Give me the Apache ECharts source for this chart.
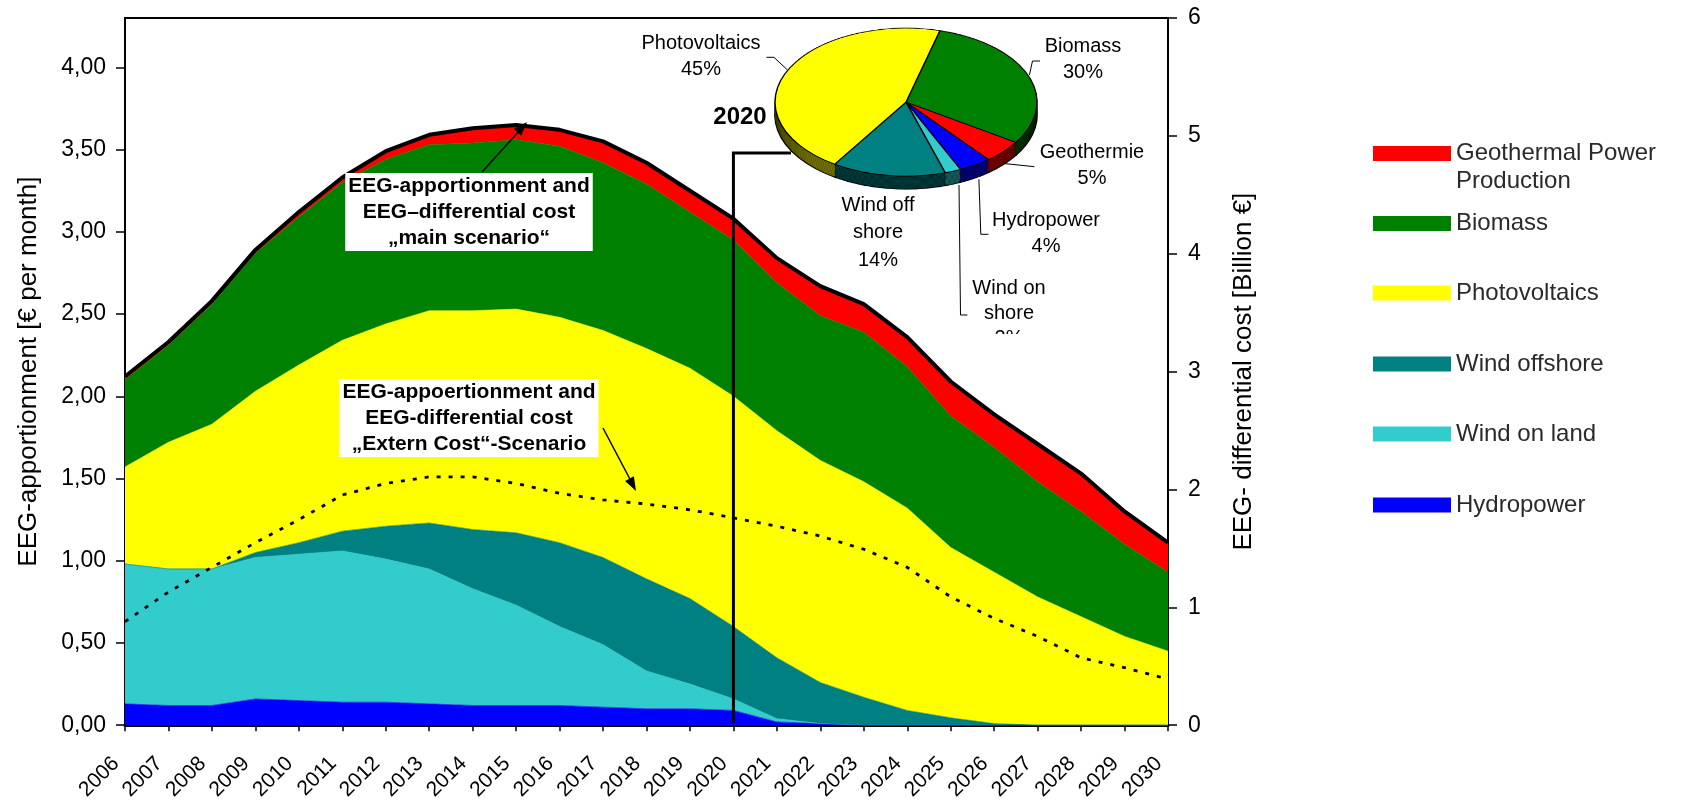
<!DOCTYPE html>
<html><head><meta charset="utf-8">
<script src="https://cdn.jsdelivr.net/npm/echarts@6/dist/echarts.min.js"></script>
<style>
html,body{margin:0;padding:0;background:#fff;overflow:hidden}
#main{position:absolute;left:0;top:0;width:1681px;height:803px}
#pie{position:absolute;left:756px;top:22.9px;width:300px;height:320px;transform:scaleY(0.565);transform-origin:0 0;pointer-events:none}
</style>
</head><body><div id="main"></div><div id="pie"></div>
<script>
// ---------- DATA ----------
const years = ['2006','2007','2008','2009','2010','2011','2012','2013','2014','2015','2016','2017','2018','2019','2020','2021','2022','2023','2024','2025','2026','2027','2028','2029','2030'];
const hydropower   = [0.13,0.12,0.12,0.16,0.15,0.14,0.14,0.13,0.12,0.12,0.12,0.11,0.10,0.10,0.09,0.02,0.01,0,0,0,0,0,0,0,0];
const windOnLand   = [0.85,0.83,0.83,0.86,0.89,0.92,0.87,0.82,0.71,0.61,0.48,0.38,0.23,0.15,0.07,0.02,0,0,0,0,0,0,0,0,0];
const windOffshore = [0,0,0,0.03,0.07,0.12,0.20,0.28,0.36,0.44,0.51,0.53,0.56,0.52,0.44,0.37,0.25,0.17,0.09,0.045,0.01,0,0,0,0];
const photovoltaics= [0.59,0.77,0.88,0.98,1.08,1.16,1.23,1.29,1.33,1.36,1.37,1.38,1.40,1.40,1.40,1.38,1.35,1.31,1.23,1.035,0.92,0.78,0.66,0.54,0.45];
const biomass      = [0.53,0.59,0.73,0.84,0.90,0.96,1.00,1.01,1.02,1.03,1.04,1.02,1.00,0.95,0.95,0.90,0.88,0.91,0.86,0.80,0.76,0.70,0.64,0.56,0.48];
const geothermal   = [0.02,0.02,0.02,0.02,0.03,0.03,0.05,0.06,0.09,0.09,0.10,0.13,0.13,0.13,0.13,0.15,0.18,0.17,0.18,0.21,0.20,0.23,0.23,0.20,0.18];
const externCost   = [0.63,0.81,0.96,1.11,1.25,1.40,1.47,1.51,1.51,1.47,1.41,1.37,1.345,1.31,1.26,1.21,1.15,1.07,0.96,0.78,0.65,0.54,0.41,0.35,0.28];
const leftTicks  = [0,0.5,1,1.5,2,2.5,3,3.5,4];
const rightTicks = [0,1,2,3,4,5,6];
const pieNames  = ['Biomass','Geothermie','Hydropower','Wind on shore','Wind off shore','Photovoltaics'];
const pieShares = [30,5,4,2,14,45];
const pieLabelNames = ['Biomass','Geothermie','Hydropower','Wind on\nshore','Wind off\nshore','Photovoltaics'];

// ---------- STYLE ----------
const FONT = '"Liberation Sans", Arial, sans-serif';
const seriesNames  = ['Hydropower','Wind on land','Wind offshore','Photovoltaics','Biomass','Geothermal Power Production'];
const seriesValues = [hydropower, windOnLand, windOffshore, photovoltaics, biomass, geothermal];
const seriesColors = ['#0000FF','#33CCCC','#008080','#FFFF00','#008000','#FF0000'];
const total = years.map((_, i) => +seriesValues.reduce((s, a) => s + a[i], 0).toFixed(3));

const legendOrder = ['Geothermal Power Production','Biomass','Photovoltaics','Wind offshore','Wind on land','Hydropower'];
const legendCenters = [153.5, 223.5, 293, 364, 434, 505];

const chart = echarts.init(document.getElementById('main'), null, {renderer:'canvas'});

const series = seriesNames.map((n, k) => ({
  name: n, type: 'line', stack: 'main', data: seriesValues[k],
  symbol: 'none', smooth: false, z: 2,
  itemStyle: {color: seriesColors[k]},
  lineStyle: {width: 0.6, color: seriesColors[k]},
  areaStyle: {color: seriesColors[k], opacity: 1},
  emphasis: {disabled: true}
}));
series.push({
  name: 'total', type: 'line', data: total, symbol: 'none', z: 4,
  lineStyle: {color: '#000', width: 4}, emphasis: {disabled: true}
});
series.push({
  name: 'extern', type: 'line', data: externCost, symbol: 'none', z: 4,
  lineStyle: {color: '#000', width: 2.8, type: [4, 8]}, emphasis: {disabled: true}
});

const legends = legendOrder.map((name, i) => ({
  data: [name], orient: 'vertical', left: 1373,
  top: i === 0 ? legendCenters[0] - 42 : legendCenters[i] - 15,
  padding: 0, icon: 'rect', itemWidth: 78, itemHeight: 15, itemGap: 0,
  selectedMode: false,
  formatter: i === 0 ? () => ' \nGeothermal Power\nProduction' : '{name}',
  textStyle: {fontSize: 24, color: '#2a2a2a', fontFamily: FONT, lineHeight: i === 0 ? 28 : 30}
}));

function txt(text, x, y, size, weight, lh, extra) {
  return {
    type: 'text', z: 100,
    style: Object.assign({
      text: text, x: x, y: y, fill: '#000',
      font: (weight || 'normal') + ' ' + size + 'px ' + FONT,
      align: 'center', verticalAlign: 'middle', textAlign: 'center', textVerticalAlign: 'middle',
      lineHeight: lh
    }, extra || {})
  };
}
function pl(points, w) {
  return {type: 'polyline', z: 100, shape: {points: points}, style: {stroke: '#000', lineWidth: w || 1, fill: null}};
}

const pieLabelPos = [[1083,59,26],[1092,165,26],[1046,233,26],[1009,313,25],[878,232.7,27.5],[701,56,26]];

const graphics = [];
pieNames.forEach((n, i) => {
  const p = pieLabelPos[i];
  graphics.push(txt(pieLabelNames[i] + '\n' + pieShares[i] + '%', p[0], p[1], 20, 'normal', p[2]));
});
graphics.push({type: 'rect', z: 101, shape: {x: 980, y: 334, width: 60, height: 18}, style: {fill: '#fff'}});
graphics.push(pl([[766.5,57.3],[774,57.3],[787.5,70]]));
graphics.push(pl([[1040,61],[1032.5,61],[1029.4,75]]));
graphics.push(pl([[1001.8,163.3],[1034.4,166.7]]));
graphics.push(pl([[988.4,234.3],[980.8,234.3],[978.9,179.3]]));
graphics.push(pl([[967.4,315],[960.5,315],[959,185]]));
graphics.push(txt('2020', 740, 117, 24, 'bold', 28));
graphics.push(txt('EEG-apportionment and\nEEG\u2013differential cost\n\u201emain scenario\u201c', 469, 212, 21, 'bold', 26,
  {backgroundColor: '#fff', padding: [0, 3, 0, 3]}));
graphics.push(txt('EEG-appoertionment and\nEEG-differential cost\n\u201eExtern Cost\u201c-Scenario', 469, 418, 21, 'bold', 26,
  {backgroundColor: '#fff', padding: [0, 3, 0, 3]}));
graphics.push({type: 'line', z: 100, shape: {x1: 482, y1: 172, x2: 521, y2: 129}, style: {stroke: '#000', lineWidth: 1.5}});
graphics.push({type: 'polygon', z: 100, shape: {points: [[527,122],[521.3,135.7],[513.9,129.1]]}, style: {fill: '#000'}});
graphics.push({type: 'line', z: 100, shape: {x1: 603, y1: 428, x2: 632, y2: 483}, style: {stroke: '#000', lineWidth: 1.5}});
graphics.push({type: 'polygon', z: 100, shape: {points: [[636,491],[625.1,480.9],[633.9,476.3]]}, style: {fill: '#000'}});

chart.setOption({
  animation: false,
  backgroundColor: '#fff',
  grid: {left: 125, right: 513, top: 18, bottom: 74, show: true, borderColor: '#000', borderWidth: 2, backgroundColor: 'transparent'},
  legend: legends,
  xAxis: {
    type: 'category', data: years, boundaryGap: false,
    axisLine: {lineStyle: {color: '#000', width: 3}},
    axisTick: {show: true, length: 6, lineStyle: {color: '#000', width: 1.5}},
    axisLabel: {rotate: 45, fontSize: 21, color: '#000', margin: 26, interval: 0, fontFamily: FONT,
      formatter: v => '{y|' + v + '}',
      rich: {y: {fontSize: 21, fontFamily: FONT, color: '#000', padding: [0, 13, 0, 0]}}},
    splitLine: {show: false}
  },
  yAxis: [{
    type: 'value', min: 0, max: 4.3, position: 'left',
    name: 'EEG-apportionment [\u20ac per month]', nameLocation: 'middle', nameRotate: 90, nameGap: 83,
    nameTextStyle: {fontSize: 26, color: '#000', fontFamily: FONT},
    axisLine: {show: true, lineStyle: {color: '#000', width: 2}},
    axisTick: {show: true, length: 9, customValues: leftTicks, lineStyle: {color: '#000', width: 1.5}},
    axisLabel: {customValues: leftTicks, fontSize: 23, color: '#000', margin: 19, fontFamily: FONT,
      formatter: v => v.toFixed(2).replace('.', ',')},
    splitLine: {show: false}
  }, {
    type: 'value', min: 0, max: 6, interval: 1, position: 'right',
    name: 'EEG- differential cost [Billion \u20ac]', nameLocation: 'middle', nameRotate: 90, nameGap: 63,
    nameTextStyle: {fontSize: 26, color: '#000', fontFamily: FONT},
    axisLine: {show: true, lineStyle: {color: '#000', width: 2}},
    axisTick: {show: true, length: 9, customValues: rightTicks, lineStyle: {color: '#000', width: 1.5}},
    axisLabel: {customValues: rightTicks, fontSize: 23, color: '#000', margin: 20, fontFamily: FONT},
    splitLine: {show: false}
  }],
  series: series,
  graphic: graphics
});

// connector from 2020 to the pie
const x2020 = chart.convertToPixel({xAxisIndex: 0}, '2020');
chart.setOption({graphic: graphics.concat([pl([[x2020, 723], [x2020, 153], [791, 153]], 3)])});

// ---------- PIE INSET (3D look: stacked discs, squashed vertically by CSS) ----------
const pie = echarts.init(document.getElementById('pie'), null, {renderer: 'canvas'});
const topColors  = ['#008000','#FF0000','#0000FF','#33CCCC','#008080','#FFFF00'];
const sideColors = ['#004000','#800000','#000080','#1A6666','#004040','#808000'];
const pieData = (cols) => pieNames.map((n, i) => ({name: n, value: pieShares[i], itemStyle: {color: cols[i]}}));
const pieSeries = [];
const offsets = [23, 21, 19, 17, 15, 13, 11, 9, 7, 5, 3, 1];
offsets.forEach((o, k) => {
  pieSeries.push({
    type: 'pie', center: [150, 140 + o], radius: 131, startAngle: 75, clockwise: true,
    data: pieData(sideColors), label: {show: false}, labelLine: {show: false}, silent: true,
    itemStyle: {borderColor: k === 0 ? '#000' : 'rgba(0,0,0,0.6)', borderWidth: k === 0 ? 1.6 : 0.6},
    emphasis: {disabled: true}, z: k
  });
});
pieSeries.push({
  type: 'pie', center: [150, 140], radius: 131, startAngle: 75, clockwise: true,
  data: pieData(topColors), label: {show: false}, labelLine: {show: false}, silent: true,
  itemStyle: {borderColor: '#000', borderWidth: 1.4},
  emphasis: {disabled: true}, z: 50
});
pie.setOption({animation: false, series: pieSeries});
</script>
</body></html>
